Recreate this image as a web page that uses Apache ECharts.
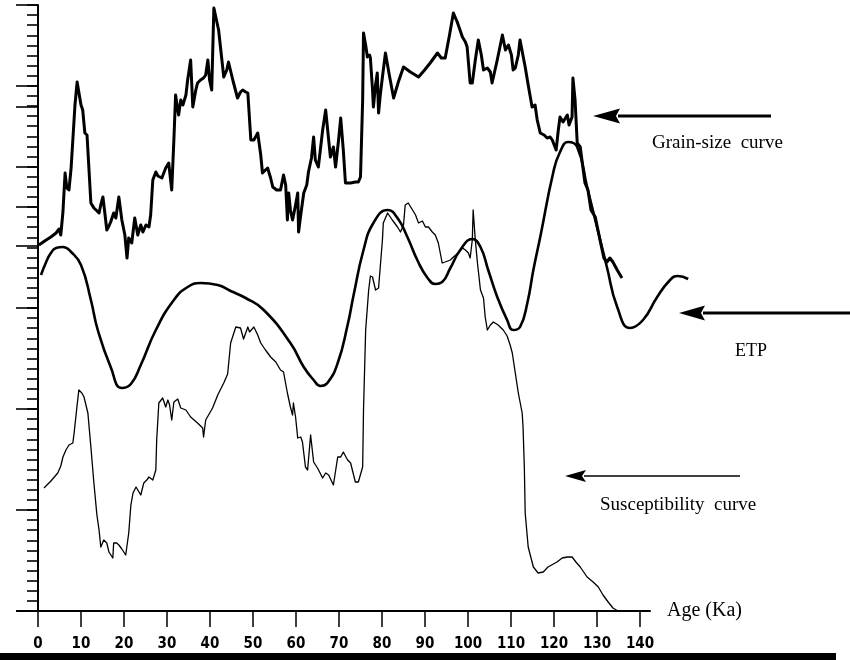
<!DOCTYPE html>
<html>
<head>
<meta charset="utf-8">
<title>Grain-size, ETP and susceptibility curves</title>
<script src="https://cdn.jsdelivr.net/npm/echarts@6.0.0/dist/echarts.min.js"></script>
<style>
  html, body { margin: 0; padding: 0; background: #fff; }
  #chart { width: 850px; height: 660px; }
</style>
</head>
<body>
<div id="chart"></div>
<script>
// x 轴刻度 (Ka)
const ageTicks = [0, 10, 20, 30, 40, 50, 60, 70, 80, 90, 100, 110, 120, 130, 140];
// 左侧长刻度位置 (与曲线同一纵向单位)
const majorTicks = [0, 101, 202, 303, 365, 404, 444, 504, 525, 606];

// Grain-size curve
const grainAge = [0.2, 1.9, 3.0, 4.2, 4.9, 5.3, 5.8, 6.3, 6.7, 7.2, 7.7, 8.1, 8.6, 9.1, 9.5, 10.0, 10.4, 10.9, 11.4, 11.8,
  12.3, 13.0, 13.5, 14.2, 14.6, 15.1, 15.6, 16.0, 16.5, 16.9, 17.6, 18.1, 18.8, 19.5, 20.2, 20.7, 21.1, 21.8, 22.5, 23.2,
  23.9, 24.4, 25.1, 25.8, 26.2, 26.7, 27.4, 27.9, 28.8, 29.7, 30.4, 31.1, 31.6, 32.0, 32.5, 32.7, 33.2, 33.7, 34.4, 34.8,
  35.5, 36.0, 36.7, 37.1, 37.8, 38.5, 39.0, 39.5, 39.9, 40.4, 40.9, 41.3, 42.0, 43.2, 43.9, 44.3, 45.3, 46.4, 47.1, 47.6,
  48.3, 48.8, 49.5, 50.2, 51.1, 51.8, 52.2, 52.9, 53.4, 54.1, 54.6, 55.5, 56.4, 57.1, 57.6, 58.0, 58.3, 58.7, 59.2, 59.9,
  60.4, 60.6, 61.1, 61.8, 62.5, 62.9, 63.6, 64.1, 64.5, 65.2, 66.2, 66.9, 67.6, 68.0, 68.7, 69.2, 69.9, 70.4, 71.0, 71.5,
  72.7, 73.8, 74.5, 75.0, 75.5, 75.7, 76.2, 76.6, 77.1, 77.3, 77.8, 78.0, 78.5, 78.9, 79.2, 79.6, 80.1, 80.8, 81.7, 82.7,
  83.8, 85.0, 86.6, 88.5, 89.9, 91.2, 92.9, 93.8, 94.7, 95.7, 96.6, 97.5, 98.7, 99.4, 99.8, 100.5, 101.0, 101.7, 102.4, 103.1,
  103.6, 104.5, 105.2, 105.6, 106.8, 108.0, 108.7, 109.4, 110.1, 110.5, 111.0, 111.7, 112.1, 113.3, 114.0, 114.9, 115.6, 116.1, 116.8, 117.7,
  118.4, 119.1, 119.6, 120.5, 121.0, 121.4, 122.1, 123.1, 123.5, 123.8, 124.2, 124.4, 124.9, 125.4, 126.1, 127.2, 127.9, 128.6, 129.6, 130.7,
  131.6, 132.3, 133.0, 133.7, 134.7, 135.8];
const grainVal = [366, 371, 374, 378, 382, 376, 399, 438, 423, 421, 443, 471, 506, 529, 530, 506, 501, 478, 476, 475,
  408, 403, 401, 398, 406, 414, 396, 381, 385, 389, 398, 393, 414, 391, 376, 353, 373, 368, 393, 376,
  386, 379, 386, 384, 396, 431, 439, 435, 433, 443, 448, 421, 471, 516, 501, 496, 511, 506, 516, 531,
  551, 504, 521, 528, 531, 533, 536, 551, 531, 521, 603, 601, 581, 534, 541, 549, 531, 513, 519, 521,
  519, 518, 471, 471, 478, 456, 438, 441, 443, 433, 424, 421, 421, 436, 426, 391, 418, 401, 391, 406,
  418, 379, 396, 418, 426, 439, 453, 474, 451, 444, 481, 501, 471, 454, 464, 444, 471, 493, 461, 428,
  428, 429, 429, 434, 511, 578, 566, 554, 556, 553, 521, 504, 526, 538, 498, 516, 534, 558, 536, 513,
  529, 544, 539, 534, 541, 548, 558, 553, 553, 576, 598, 589, 574, 569, 564, 528, 528, 551, 571, 556,
  541, 543, 539, 528, 551, 576, 561, 566, 556, 541, 543, 556, 571, 544, 526, 504, 506, 491, 478, 476,
  473, 474, 471, 461, 481, 494, 489, 496, 486, 484, 494, 533, 511, 468, 464, 428, 421, 401, 394, 371,
  353, 349, 353, 349, 341, 333];

// ETP
const etpAge = [0.7, 1.9, 3.0, 4.2, 5.8, 7.7, 10.0, 12.3, 13.9, 16.9, 19.5, 21.6, 23.9, 27.4, 31.6, 34.8, 37.8, 41.8, 44.8, 48.3,
  52.5, 58.7, 61.8, 64.1, 65.7, 67.3, 69.7, 72.0, 73.4, 75.7, 78.0, 81.3, 83.6, 85.9, 88.2, 90.6, 92.4, 94.0, 95.9, 98.2,
  101.0, 102.9, 104.7, 106.8, 109.1, 110.5, 112.1, 113.8, 115.2, 116.8, 119.8, 121.4, 123.3, 125.4, 127.7, 130.0, 132.3, 134.7, 137.7, 140.7,
  144.0, 147.0, 148.8, 151.2];
const etpVal = [336, 349, 358, 363, 364, 359, 346, 311, 281, 244, 223, 227, 246, 281, 311, 324, 328, 326, 320, 313,
  301, 268, 244, 231, 225, 228, 248, 286, 316, 361, 388, 401, 393, 374, 351, 333, 327, 329, 343, 361,
  372, 364, 341, 314, 291, 281, 284, 308, 341, 374, 438, 459, 469, 464, 424, 384, 344, 304, 283, 291,
  314, 331, 335, 332];

// Susceptibility curve
const suscAge = [1.4, 3.0, 4.6, 5.3, 5.8, 6.5, 7.2, 8.1, 8.4, 9.1, 9.5, 10.2, 10.7, 11.6, 12.3, 13.0, 13.7, 14.2, 14.6, 15.3,
  16.0, 16.5, 16.9, 17.4, 17.6, 18.3, 18.8, 19.5, 20.4, 21.1, 21.6, 22.1, 22.8, 23.2, 23.9, 24.6, 25.3, 25.8, 26.7, 27.4,
  27.6, 28.1, 29.0, 29.7, 30.2, 30.6, 31.1, 31.6, 32.5, 33.2, 34.4, 35.5, 37.1, 38.3, 38.5, 39.0, 40.6, 41.8, 43.2, 44.1,
  44.8, 46.0, 47.1, 47.8, 48.8, 49.2, 50.2, 51.1, 51.8, 52.9, 54.1, 55.3, 56.4, 57.1, 58.0, 58.7, 59.2, 59.4, 59.9, 60.4,
  61.1, 61.5, 62.2, 62.7, 63.4, 64.1, 65.0, 66.2, 66.9, 67.6, 68.7, 69.7, 70.4, 71.0, 72.0, 72.7, 73.8, 74.5, 75.5, 75.7,
  76.2, 76.9, 77.3, 77.8, 78.5, 79.2, 80.1, 80.3, 81.3, 82.4, 83.6, 84.3, 85.0, 85.4, 86.1, 87.1, 87.8, 88.5, 89.4, 90.1,
  90.8, 91.7, 92.4, 93.1, 94.0, 94.7, 95.9, 96.6, 97.7, 98.7, 99.4, 100.1, 100.5, 101.0, 101.2, 101.7, 102.2, 102.9, 103.6, 104.0,
  104.5, 105.2, 105.9, 107.0, 108.2, 109.1, 109.8, 110.3, 111.0, 111.7, 112.6, 112.8, 113.1, 113.3, 114.0, 115.2, 116.3, 117.5, 118.6, 120.7,
  121.9, 123.1, 124.2, 125.1, 126.1, 127.7, 129.1, 130.3, 131.4, 132.6, 133.7, 134.9, 135.8];
const suscVal = [123, 130, 138, 145, 154, 161, 166, 168, 178, 206, 221, 218, 214, 198, 164, 128, 96, 81, 64, 71,
  68, 59, 57, 53, 68, 68, 66, 62, 56, 78, 106, 118, 124, 124, 116, 128, 131, 134, 131, 141,
  171, 208, 213, 204, 211, 206, 191, 209, 212, 203, 201, 194, 188, 183, 174, 191, 203, 216, 228, 237,
  268, 284, 283, 272, 284, 279, 284, 276, 268, 261, 254, 249, 241, 239, 218, 204, 196, 208, 194, 173,
  174, 169, 144, 141, 176, 149, 143, 133, 138, 136, 126, 154, 154, 159, 151, 148, 129, 129, 144, 201,
  281, 321, 335, 334, 321, 323, 371, 388, 398, 391, 384, 379, 386, 406, 408, 401, 396, 388, 390, 384,
  384, 379, 376, 368, 348, 349, 351, 354, 358, 363, 361, 358, 353, 371, 401, 371, 348, 321, 313, 294,
  281, 286, 289, 286, 281, 275, 266, 258, 238, 218, 198, 184, 144, 98, 64, 44, 38, 39, 44, 49,
  53, 54, 54, 49, 44, 34, 29, 24, 16, 9, 3, 0, 0];

const zip = (xs, ys) => xs.map((x, i) => [x, ys[i]]);

const chart = echarts.init(document.getElementById('chart'), null, { renderer: 'canvas' });

// 文字标注和箭头
const serif = '"Liberation Serif", "Times New Roman", serif';
const arrow = (tipX, y, baseX, endX, half, lw) => [
  { type: 'line', shape: { x1: baseX - 2, y1: y, x2: endX, y2: y }, style: { stroke: '#000', lineWidth: lw } },
  { type: 'polygon', shape: { points: [[tipX, y], [baseX, y - half], [baseX - 4, y], [baseX, y + half]] }, style: { fill: '#000' } }
];
const note = (text, x, y, size) => ({
  type: 'text', x: x, y: y,
  style: { text: text, font: size + 'px ' + serif, fill: '#000', textAlign: 'left', textVerticalAlign: 'middle' }
});

// 每 Ka 4.3 像素, 数据延伸到 152 Ka (ETP 尾部)
const xMax = 152;

const option = {
  animation: false,
  backgroundColor: '#fff',
  grid: [
    { left: 38, top: 5, width: 4.3 * xMax, height: 606 },
    { left: 17, top: 611, width: 633, height: 0 } // 仅用于延长的 x 轴线和轴名
  ],
  xAxis: [
    {
      type: 'value', gridIndex: 0, min: 0, max: xMax, interval: 10,
      axisLine: { show: false },
      axisTick: { show: true, length: 16, customValues: ageTicks, lineStyle: { color: '#000', width: 1.5 } },
      axisLabel: {
        margin: 26, color: '#000', fontSize: 15, fontWeight: 'bold', customValues: ageTicks,
        fontFamily: '"Liberation Sans Narrow", "DejaVu Sans Condensed", sans-serif'
      },
      splitLine: { show: false }
    },
    {
      type: 'value', gridIndex: 1, min: 0, max: 1,
      name: 'Age (Ka)', nameLocation: 'end', nameGap: 17,
      nameTextStyle: { fontFamily: serif, fontSize: 20, color: '#000', verticalAlign: 'middle', padding: [0, 0, 4, 0] },
      axisLine: { show: true, lineStyle: { color: '#000', width: 2 } },
      axisTick: { show: false }, axisLabel: { show: false }, splitLine: { show: false }
    }
  ],
  yAxis: [
    {
      type: 'value', gridIndex: 0, min: 0, max: 606, interval: 10.1,
      axisLine: { show: true, lineStyle: { color: '#000', width: 2 } },
      axisTick: { show: true, length: 11, lineStyle: { color: '#000', width: 1.6 } },
      axisLabel: { show: false },
      splitLine: { show: false }
    },
    {
      type: 'value', gridIndex: 0, position: 'left', min: 0, max: 606, interval: 101,
      axisLine: { show: false },
      axisTick: { show: true, length: 22, customValues: majorTicks, lineStyle: { color: '#000', width: 1.6 } },
      axisLabel: { show: false },
      splitLine: { show: false }
    },
    { type: 'value', gridIndex: 1, show: false }
  ],
  series: [
    {
      name: 'Grain-size curve', type: 'line', xAxisIndex: 0, yAxisIndex: 0,
      data: zip(grainAge, grainVal), showSymbol: false, clip: false,
      lineStyle: { color: '#000', width: 3, join: 'round' }
    },
    {
      name: 'ETP', type: 'line', xAxisIndex: 0, yAxisIndex: 0,
      data: zip(etpAge, etpVal), showSymbol: false, clip: false, smooth: 0.5,
      lineStyle: { color: '#000', width: 2.6 }
    },
    {
      name: 'Susceptibility curve', type: 'line', xAxisIndex: 0, yAxisIndex: 0,
      data: zip(suscAge, suscVal), showSymbol: false, clip: false,
      lineStyle: { color: '#000', width: 1.3, join: 'round' }
    }
  ],
  graphic: [
    ...arrow(593, 116, 620, 771, 7.5, 3),
    ...arrow(679, 313, 705, 850, 7.5, 3),
    ...arrow(565, 476, 586, 740, 6, 1.5),
    note('Grain-size  curve', 652, 143, 19),
    note('ETP', 735, 351, 18),
    note('Susceptibility  curve', 600, 505, 19),
    { type: 'rect', shape: { x: 0, y: 653, width: 836, height: 7 }, style: { fill: '#000' } }
  ]
};

chart.setOption(option);
</script>
</body>
</html>
